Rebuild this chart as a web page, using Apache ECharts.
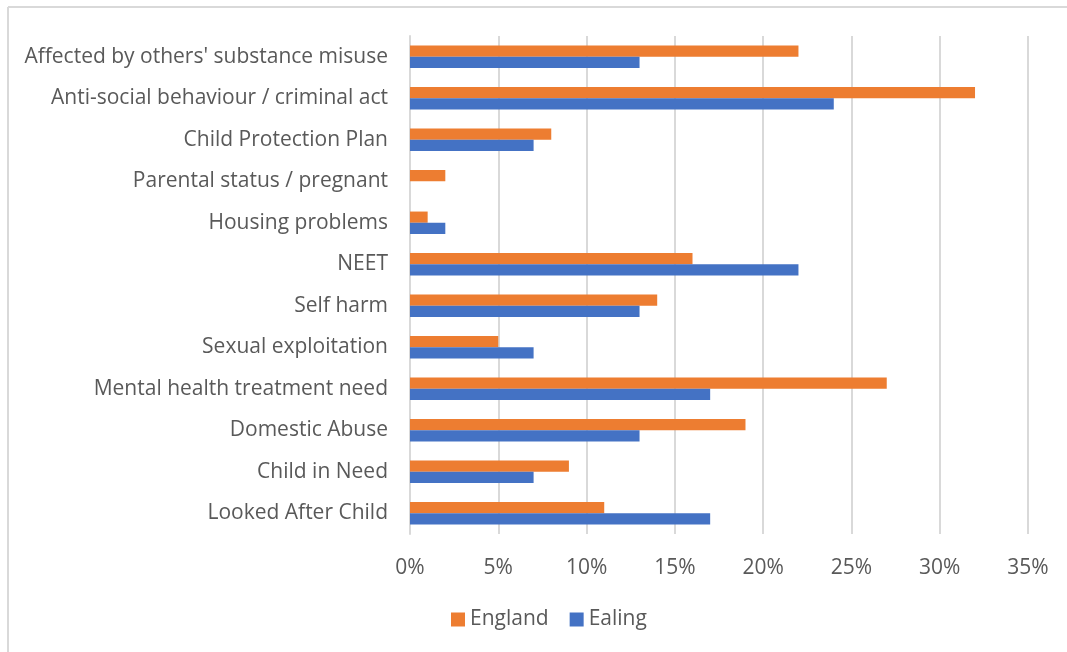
<!DOCTYPE html>
<html>
<head>
<meta charset="utf-8">
<script src="https://cdn.jsdelivr.net/npm/echarts@6/dist/echarts.min.js"></script>
<style>
  html, body { margin: 0; padding: 0; background: #ffffff; }
  #chart { width: 1067px; height: 652px; }
</style>
</head>
<body>
<div id="chart"></div>
<script>
// Risk factors, shown top to bottom
const categories = [
  "Affected by others' substance misuse",
  "Anti-social behaviour / criminal act",
  "Child Protection Plan",
  "Parental status / pregnant",
  "Housing problems",
  "NEET",
  "Self harm",
  "Sexual exploitation",
  "Mental health treatment need",
  "Domestic Abuse",
  "Child in Need",
  "Looked After Child"
];

// Percentages per category
const englandValues = [22, 32, 8, 2, 1, 16, 14, 5, 27, 19, 9, 11];
const ealingValues  = [13, 24, 7, 0, 2, 22, 13, 7, 17, 13, 7, 17];

const seriesNames = ["England", "Ealing"];
const textColor = "#595959";
const fontFamily = "'Open Sans', 'Noto Sans', sans-serif";

const chart = echarts.init(document.getElementById("chart"), null, { renderer: "canvas" });

chart.setOption({
  animation: false,
  backgroundColor: "#ffffff",
  grid: { left: 410, right: 39, top: 36, bottom: 118, containLabel: false },
  legend: {
    data: seriesNames,
    top: 609,
    left: 451,
    padding: 0,
    itemWidth: 14,
    itemHeight: 14,
    itemGap: 21,
    icon: "rect",
    textStyle: { color: textColor, fontSize: 21, fontFamily: fontFamily }
  },
  xAxis: {
    type: "value",
    min: 0,
    max: 35,
    interval: 5,
    axisLine: { show: false },
    axisTick: { show: false },
    splitLine: { show: true, lineStyle: { color: "#d9d9d9", width: 2 } },
    axisLabel: {
      color: textColor, fontSize: 21, fontFamily: fontFamily, margin: 24,
      formatter: v => v + "%"
    }
  },
  yAxis: {
    type: "category",
    data: categories,
    inverse: true,
    axisLine: { show: true, lineStyle: { color: "#d9d9d9", width: 2 } },
    axisTick: { show: false },
    axisLabel: {
      color: textColor, fontSize: 21, fontFamily: fontFamily, margin: 22,
      padding: [6, 0, 0, 0]
    }
  },
  series: [
    {
      name: seriesNames[0],
      type: "bar",
      data: englandValues,
      barGap: "0%",
      barCategoryGap: "46%",
      itemStyle: { color: "#ed7d31" }
    },
    {
      name: seriesNames[1],
      type: "bar",
      data: ealingValues,
      barGap: "0%",
      barCategoryGap: "46%",
      itemStyle: { color: "#4472c4" }
    }
  ],
  graphic: [
    { type: "line", shape: { x1: 8, y1: 7, x2: 1067, y2: 7 }, style: { stroke: "#d9d9d9", lineWidth: 2 } },
    { type: "line", shape: { x1: 8, y1: 7, x2: 8, y2: 652 }, style: { stroke: "#d9d9d9", lineWidth: 2 } }
  ]
});
</script>
</body>
</html>
